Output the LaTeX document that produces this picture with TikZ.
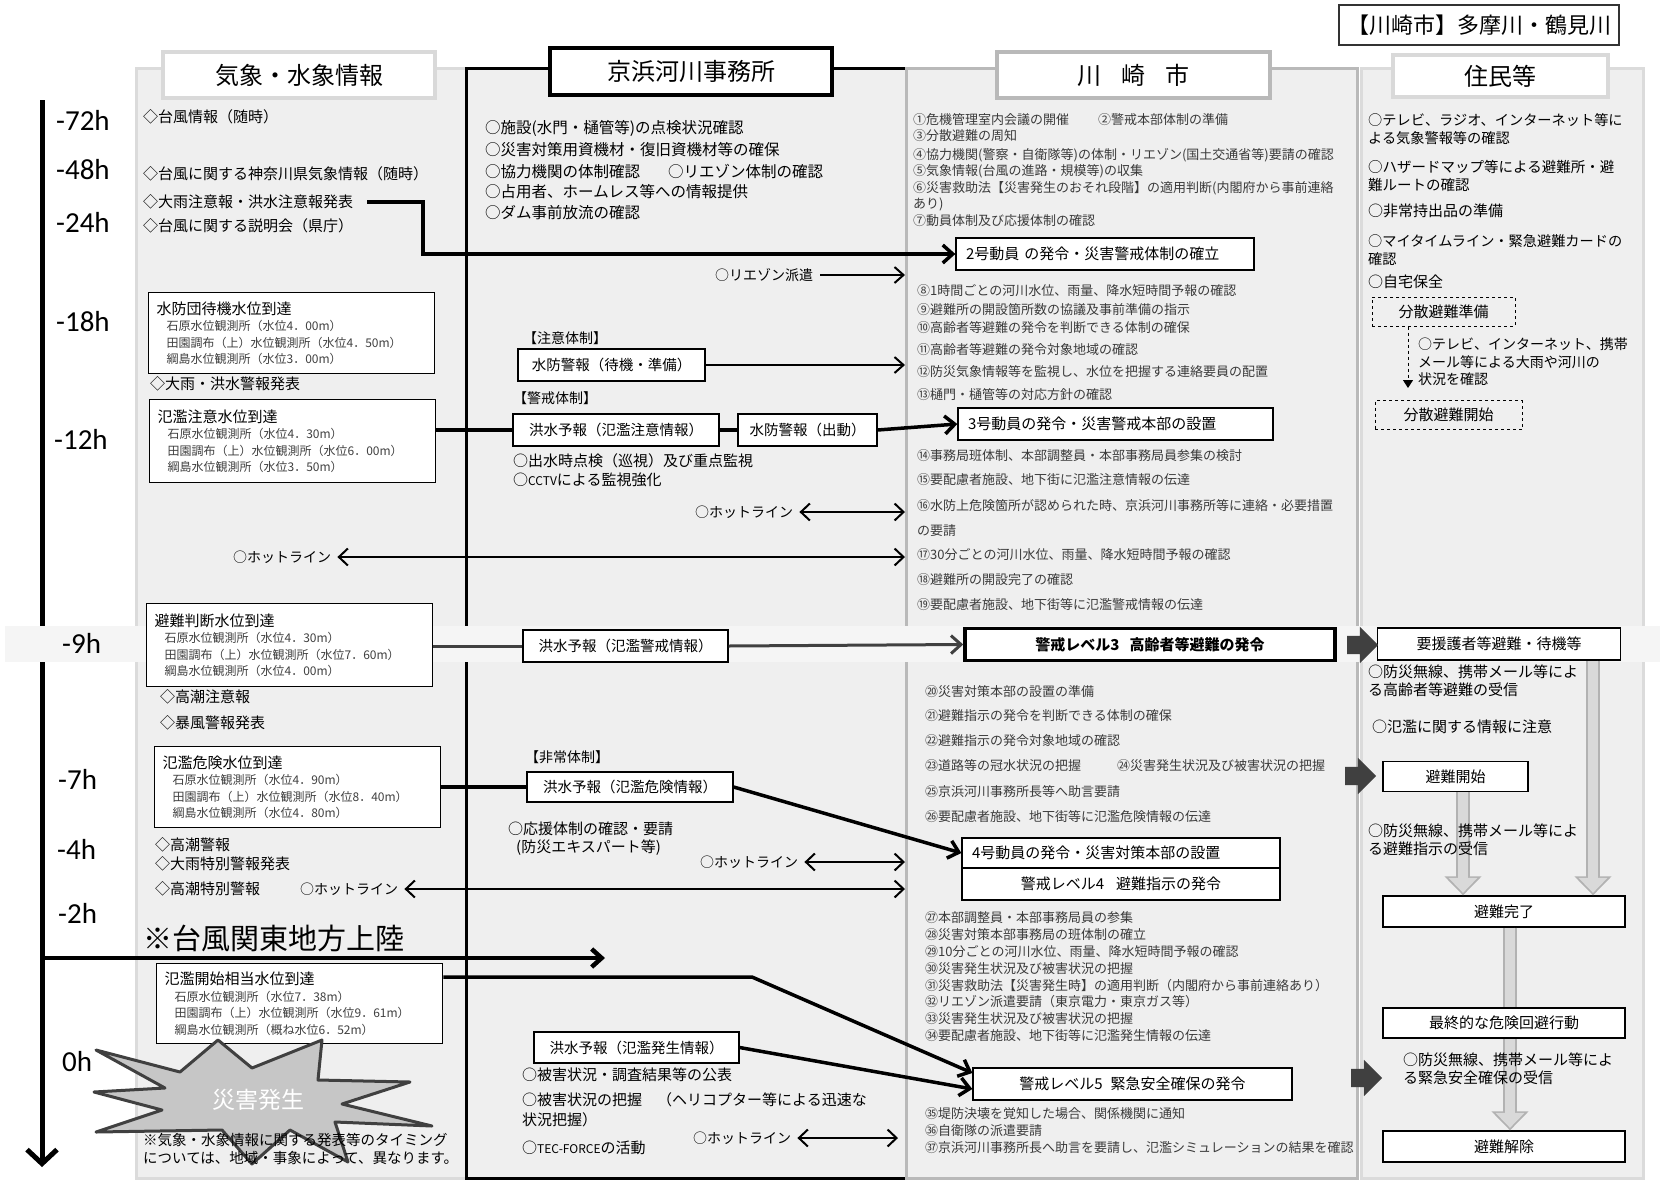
\documentclass[tikz,border=0pt]{standalone}
\usepackage{fontspec}
\setmainfont{Noto Sans CJK JP}
\newfontfamily\timefont{Carlito}
\usetikzlibrary{arrows.meta,shapes.arrows}

\definecolor{panelbg}{HTML}{EFEFEF}
\definecolor{bandbg}{HTML}{F5F5F5}
\definecolor{ktext}{HTML}{3A3A3A}
\definecolor{subtext}{HTML}{404040}

\newcommand{\wltitle}[1]{{\fontsize{15}{16.5}\selectfont #1}}
\newcommand{\wlsub}[1]{\hspace*{10pt}{\color{subtext}#1}}

\tikzstyle{panel} = [rectangle, anchor=north west, fill=panelbg, line width=3pt, inner sep=0pt]
\tikzstyle{header} = [rectangle, fill=white, inner sep=0pt, font=\fontsize{24}{26}\selectfont]
\tikzstyle{timelabel} = [anchor=west, inner sep=0pt, font=\timefont\fontsize{29}{30}\selectfont]
\tikzstyle{item} = [anchor=west, inner sep=0pt, font=\fontsize{15}{18}\selectfont]
\tikzstyle{kitem} = [anchor=west, inner sep=0pt, text=ktext, font=\fontsize{13}{16}\selectfont]
\tikzstyle{hotline} = [anchor=west, inner sep=0pt, font=\fontsize{14}{16}\selectfont]
\tikzstyle{levelbox} = [rectangle, draw, fill=white, line width=1.3pt, inner sep=0pt, minimum height=32pt, font=\fontsize{14.5}{16}\selectfont]
\tikzstyle{wlbox} = [rectangle, draw, fill=white, line width=1.3pt, anchor=north west, inner xsep=8pt, inner ysep=4pt, text width=270pt, align=left, font=\fontsize{12}{16.5}\selectfont]
\tikzstyle{dashbox} = [rectangle, draw, dashed, line width=1pt, inner sep=0pt, minimum height=29pt, font=\fontsize{15}{16}\selectfont]
\tikzstyle{link} = [line width=3.5pt]
\tikzstyle{flow} = [line width=3.5pt, ->, >={Straight Barb[length=10pt,width=18pt]}]
\tikzstyle{warnflow} = [line width=3pt, draw=black!75, ->, >={Straight Barb[length=10pt,width=18pt]}]
\tikzstyle{thinflow} = [line width=2pt, ->, >={Straight Barb[length=9pt,width=16pt]}]
\tikzstyle{hot} = [line width=2pt, <->, >={Straight Barb[length=9pt,width=17pt]}]
\tikzstyle{blockarrow} = [single arrow, fill=black!75, inner xsep=0pt, inner ysep=9pt, minimum height=31pt, single arrow head extend=9pt]
\tikzset{
  kbox/.style={levelbox, inner xsep=10pt, text width=#1, align=left, font=\fontsize{15}{16}\selectfont},
  evac/.style={line width=14pt, draw=gray!60, -{Triangle[length=19pt,width=36pt]},
    postaction={draw=gray!30, line width=10pt, -{Triangle[length=15pt,width=28pt]}, shorten >=2.5pt}}
}

\begin{document}
\begin{tikzpicture}[x=1pt,y=-1pt]
\useasboundingbox (0,0) rectangle (1664,1183);

% columns
\node[panel, draw=gray!28, minimum width=330pt, minimum height=1110pt] (pW) at (135,67) {};
\node[panel, draw=black, minimum width=440pt, minimum height=1110pt] (pK) at (465,67) {};
\node[panel, draw=gray!55, minimum width=451pt, minimum height=1110pt] (pC) at (905,67) {};
\node[panel, draw=gray!28, minimum width=282pt, minimum height=1110pt] (pR) at (1360,67) {};

% time axis
\coordinate (ttop) at (42,100);
\coordinate (tbot) at (42,1167);
\draw[line width=5pt, -{Straight Barb[length=14pt,width=30pt]}] (ttop) -- (tbot);

% -9h band
\fill[bandbg] (5,626) rectangle (1660,662);

% headers
\node[header, draw=gray!30, line width=4pt, minimum width=272pt, minimum height=46pt] (hW) at (299,75) {気象・水象情報};
\node[header, draw=black, line width=4.5pt, minimum width=282pt, minimum height=47pt] (hK) at (691,71.5) {京浜河川事務所};
\node[header, draw=gray!55, line width=4pt, minimum width=273pt, minimum height=46pt] (hC) at (1133.5,75) {川\hspace{20pt}崎\hspace{20pt}市};
\node[header, draw=gray!30, line width=4pt, minimum width=215pt, minimum height=42pt] (hR) at (1500.5,76) {住民等};
\node[rectangle, draw=black!80, line width=1.5pt, fill=white, minimum width=280pt, minimum height=40pt, inner sep=0pt, font=\fontsize{22}{24}\selectfont] (area) at (1479,25) {【川崎市】多摩川・鶴見川};

\foreach \xx/\yy/\tl [count=\i] in {56/120/-72h, 56/170/-48h, 56/222/-24h, 56/322/-18h, 54/439/-12h, 62/643/-9h, 58/779/-7h, 57/849/-4h, 58/913/-2h, 62/1062/0h}
  \node[timelabel] (t\i) at (\xx,\yy) {\tl};

% weather column
\node[item] (w1) at (143,117) {◇台風情報（随時）};
\node[item] (w2) at (143,174) {◇台風に関する神奈川県気象情報（随時）};
\node[item] (w3) at (143,202) {◇大雨注意報・洪水注意報発表};
\node[item] (w4) at (143,226) {◇台風に関する説明会（県庁）};
\node[wlbox, minimum height=81pt] (b1) at (148,292) {\wltitle{水防団待機水位到達}\\
  \wlsub{石原水位観測所（水位4．00m）}\\
  \wlsub{田園調布（上）水位観測所（水位4．50m）}\\
  \wlsub{綱島水位観測所（水位3．00m）}};
\node[item] (w5) at (150,384) {◇大雨・洪水警報発表};
\node[wlbox, minimum height=83pt] (b2) at (149,399) {\wltitle{氾濫注意水位到達}\\
  \wlsub{石原水位観測所（水位4．30m）}\\
  \wlsub{田園調布（上）水位観測所（水位6．00m）}\\
  \wlsub{綱島水位観測所（水位3．50m）}};
\node[hotline] (hotW1) at (233,557) {○ホットライン};
\node[wlbox, minimum height=83pt] (b3) at (146,603) {\wltitle{避難判断水位到達}\\
  \wlsub{石原水位観測所（水位4．30m）}\\
  \wlsub{田園調布（上）水位観測所（水位7．60m）}\\
  \wlsub{綱島水位観測所（水位4．00m）}};
\node[item] (w6) at (160,697) {◇高潮注意報};
\node[item] (w7) at (160,723) {◇暴風警報発表};
\node[wlbox, minimum height=81pt] (b4) at (154,746) {\wltitle{氾濫危険水位到達}\\
  \wlsub{石原水位観測所（水位4．90m）}\\
  \wlsub{田園調布（上）水位観測所（水位8．40m）}\\
  \wlsub{綱島水位観測所（水位4．80m）}};
\node[item] (w8) at (155,845) {◇高潮警報};
\node[item] (w9) at (155,864) {◇大雨特別警報発表};
\node[item] (w10) at (155,889) {◇高潮特別警報};
\node[hotline] (hotW2) at (300,889) {○ホットライン};
\node[anchor=west, inner sep=0pt, font=\fontsize{29}{31}\selectfont] (landfall) at (143,938) {※台風関東地方上陸};
\node[wlbox, minimum height=80pt] (b5) at (156,963) {\wltitle{氾濫開始相当水位到達}\\
  \wlsub{石原水位観測所（水位7．38m）}\\
  \wlsub{田園調布（上）水位観測所（水位9．61m）}\\
  \wlsub{綱島水位観測所（概ね水位6．52m）}};

% river office column
\foreach \yy/\tx [count=\i] in {128/{○施設(水門・樋管等)の点検状況確認}, 150/{○災害対策用資機材・復旧資機材等の確保}, 172/{○協力機関の体制確認\hspace{28pt}○リエゾン体制の確認}, 192/{○占用者、ホームレス等への情報提供}, 213/{○ダム事前放流の確認}}
  \node[item, font=\fontsize{15.5}{18}\selectfont] (kh\i) at (485,\yy) {\tx};
\node[hotline] (liaison) at (715,275) {○リエゾン派遣};
\node[hotline] (sys1) at (523,338) {【注意体制】};
\node[levelbox, minimum width=187pt] (sb1) at (611.5,365) {水防警報（待機・準備）};
\node[hotline] (sys2) at (513,398) {【警戒体制】};
\node[levelbox, minimum width=206pt] (kk1) at (616,430) {洪水予報（氾濫注意情報）};
\node[levelbox, minimum width=139pt] (sb2) at (807.5,430) {水防警報（出動）};
\node[item] (kh6) at (513,461) {○出水時点検（巡視）及び重点監視};
\node[item] (kh7) at (513,480) {○{\fontsize{12}{14}\selectfont CCTV}による監視強化};
\node[hotline] (hotK1) at (695,512) {○ホットライン};
\node[levelbox, minimum width=205pt] (kk2) at (625.5,646) {洪水予報（氾濫警戒情報）};
\node[hotline] (sys3) at (525,757) {【非常体制】};
\node[levelbox, minimum width=206pt, minimum height=30pt] (kk3) at (630,787) {洪水予報（氾濫危険情報）};
\node[item] (kh8) at (508,829) {○応援体制の確認・要請};
\node[item] (kh9) at (516,848) {(防災エキスパート等)};
\node[hotline] (hotK2) at (700,862) {○ホットライン};
\node[levelbox, minimum width=205pt, minimum height=31pt] (kk4) at (636.5,1047.5) {洪水予報（氾濫発生情報）};
\node[item] (kh10) at (522,1075) {○被害状況・調査結果等の公表};
\node[item] (kh11) at (522,1100) {○被害状況の把握　（ヘリコプター等による迅速な};
\node[item] (kh12) at (522,1120) {状況把握）};
\node[item] (kh13) at (522,1148) {○{\fontsize{12}{14}\selectfont TEC-FORCE}の活動};
\node[hotline] (hotK3) at (693,1138) {○ホットライン};

% city column
\foreach \xx/\yy/\tx [count=\i] in {
  913/120/{①危機管理室内会議の開催\hspace{29pt}②警戒本部体制の準備},
  913/136/{③分散避難の周知},
  913/155/{④協力機関(警察・自衛隊等)の体制・リエゾン(国土交通省等)要請の確認},
  913/171/{⑤気象情報(台風の進路・規模等)の収集},
  913/188/{⑥災害救助法【災害発生のおそれ段階】の適用判断(内閣府から事前連絡},
  913/204/{あり)},
  913/221/{⑦動員体制及び応援体制の確認},
  917/291/{⑧1時間ごとの河川水位、雨量、降水短時間予報の確認},
  917/310/{⑨避難所の開設箇所数の協議及事前準備の指示},
  917/328/{⑩高齢者等避難の発令を判断できる体制の確保},
  917/350/{⑪高齢者等避難の発令対象地域の確認},
  917/372/{⑫防災気象情報等を監視し、水位を把握する連絡要員の配置},
  917/395/{⑬樋門・樋管等の対応方針の確認},
  917/456/{⑭事務局班体制、本部調整員・本部事務局員参集の検討},
  917/480/{⑮要配慮者施設、地下街に氾濫注意情報の伝達},
  917/506/{⑯水防上危険箇所が認められた時、京浜河川事務所等に連絡・必要措置},
  917/531/{の要請},
  917/555/{⑰30分ごとの河川水位、雨量、降水短時間予報の確認},
  917/580/{⑱避難所の開設完了の確認},
  917/605/{⑲要配慮者施設、地下街等に氾濫警戒情報の伝達},
  925/692/{⑳災害対策本部の設置の準備},
  925/716/{㉑避難指示の発令を判断できる体制の確保},
  925/741/{㉒避難指示の発令対象地域の確認},
  925/766/{㉓道路等の冠水状況の把握\hspace{36pt}㉔災害発生状況及び被害状況の把握},
  925/792/{㉕京浜河川事務所長等へ助言要請},
  925/817/{㉖要配慮者施設、地下街等に氾濫危険情報の伝達},
  925/918/{㉗本部調整員・本部事務局員の参集},
  925/935/{㉘災害対策本部事務局の班体制の確立},
  925/952/{㉙10分ごとの河川水位、雨量、降水短時間予報の確認},
  925/969/{㉚災害発生状況及び被害状況の把握},
  925/986/{㉛災害救助法【災害発生時】の適用判断（内閣府から事前連絡あり）},
  925/1002/{㉜リエゾン派遣要請（東京電力・東京ガス等）},
  925/1019/{㉝災害発生状況及び被害状況の把握},
  925/1036/{㉞要配慮者施設、地下街等に氾濫発生情報の伝達},
  925/1114/{㉟堤防決壊を覚知した場合、関係機関に通知},
  925/1131/{㊱自衛隊の派遣要請},
  925/1148/{㊲京浜河川事務所長へ助言を要請し、氾濫シミュレーションの結果を確認}}
  \node[kitem] (k\i) at (\xx,\yy) {\tx};
\node[kbox=278pt] (b2go) at (1105,254) {2号動員 の発令・災害警戒体制の確立};
\node[kbox=295pt] (b3go) at (1115.5,424) {3号動員の発令・災害警戒本部の設置};
\node[levelbox, line width=3.5pt, minimum width=370pt, font=\bfseries\fontsize{15}{16}\selectfont] (bL3) at (1150,644.5) {警戒レベル3\hspace{10pt}高齢者等避難の発令};
\node[kbox=298pt, minimum height=30pt] (b4go) at (1121,853) {4号動員の発令・災害対策本部の設置};
\node[levelbox, minimum width=318pt, font=\fontsize{15}{16}\selectfont] (bL4) at (1121,884) {警戒レベル4\hspace{12pt}避難指示の発令};
\node[levelbox, minimum width=319pt, font=\fontsize{15}{16}\selectfont] (bL5) at (1132.5,1084) {警戒レベル5\hspace{8pt}緊急安全確保の発令};

% residents column
\node[item, align=left, font=\fontsize{14.2}{18}\selectfont] (r1) at (1368,129) {○テレビ、ラジオ、インターネット等に\\よる気象警報等の確認};
\node[item, align=left, font=\fontsize{14.5}{18}\selectfont] (r2) at (1368,176) {○ハザードマップ等による避難所・避\\難ルートの確認};
\node[item] (r3) at (1368,211) {○非常持出品の準備};
\node[item, align=left, font=\fontsize{14.2}{18}\selectfont] (r4) at (1368,250) {○マイタイムライン・緊急避難カードの\\確認};
\node[item] (r5) at (1368,282) {○自宅保全};
\node[dashbox, minimum width=143pt] (rPrep) at (1443.5,311.5) {分散避難準備};
\node[item, align=left, font=\fontsize{14}{17.5}\selectfont] (r6) at (1418,362) {○テレビ、インターネット、携帯\\メール等による大雨や河川の\\状況を確認};
\coordinate (rTip) at (1408,388);
\draw[dashed, line width=1pt, -{Triangle[length=8pt,width=10pt]}] (rPrep.south -| rTip) -- (rTip);
\node[dashbox, minimum width=147pt] (rStart) at (1448.5,415) {分散避難開始};
\node[levelbox, minimum width=243pt, font=\fontsize{15}{16}\selectfont] (rYoen) at (1499,644) {要援護者等避難・待機等};
\node[item, align=left] (r7) at (1368,681) {○防災無線、携帯メール等によ\\る高齢者等避難の受信};
\node[item] (r8) at (1372,727) {○氾濫に関する情報に注意};
\node[levelbox, minimum width=145pt, minimum height=30pt, font=\fontsize{15}{16}\selectfont] (rKaishi) at (1455.5,776.5) {避難開始};
\node[levelbox, minimum width=242pt, minimum height=31pt, font=\fontsize{15}{16}\selectfont] (rKanryo) at (1504,911.5) {避難完了};
\node[levelbox, minimum width=242pt, minimum height=31pt, font=\fontsize{15}{16}\selectfont] (rKaijo) at (1504,1146.5) {避難解除};
\draw[evac] ([xshift=94pt]rYoen.south) -- ([xshift=89pt]rKanryo.north);
\draw[evac] ([xshift=7.5pt]rKaishi.south) -- ([xshift=-41pt]rKanryo.north);
\draw[evac] ([xshift=6pt]rKanryo.south) -- ([xshift=6pt]rKaijo.north);
\node[levelbox, minimum width=242pt, minimum height=30pt, font=\fontsize{15}{16}\selectfont] (rSaishu) at (1504,1023) {最終的な危険回避行動};
\node[item, align=left] (r9) at (1368,840) {○防災無線、携帯メール等によ\\る避難指示の受信};
\node[item, align=left] (r10) at (1403,1069) {○防災無線、携帯メール等によ\\る緊急安全確保の受信};
\node[blockarrow] (ba3) at (1358,645) {};
\node[blockarrow] (ba4) at (1356,776) {};
\node[blockarrow] (ba5) at (1362,1078) {};

% connectors
\coordinate (jog) at (423,0);
\draw[flow] ([xshift=14pt]w3.east) -| (jog |- b2go.west) -- (b2go.west);
\draw[thinflow] ([xshift=7pt]liaison.east) -- (liaison.east -| pC.west);
\draw[thinflow] (sb1.east) -- (sb1.east -| pC.west);
\draw[link] (b2.east |- kk1.west) -- (kk1.west);
\draw[link] (kk1.east) -- (sb2.west);
\draw[flow] (sb2.east) -- (b3go.west);
\draw[hot] ([xshift=6pt]hotK1.east) -- (hotK1.east -| pC.west);
\draw[hot] ([xshift=6pt]hotW1.east) -- (hotW1.east -| pC.west);
\draw[warnflow, -] (b3.east |- kk2.west) -- (kk2.west);
\draw[warnflow] (kk2.east) -- (bL3.west);
\draw[link] (b4.east |- kk3.west) -- (kk3.west);
\draw[flow] (kk3.east) -- (b4go.west);
\draw[hot] ([xshift=6pt]hotK2.east) -- (hotK2.east -| pC.west);
\draw[hot] ([xshift=6pt]hotW2.east) -- (hotW2.east -| pC.west);
\coordinate (landL) at (42,958);
\coordinate (landR) at (605,958);
\draw[flow, line width=4.5pt] (landL) -- (landR);
\coordinate (kink) at (752,977);
\draw[flow] (b5.east |- kink) -- (kink) -- ([yshift=11pt]bL5.west);
\draw[flow] (kk4.east) -- ([yshift=-5pt]bL5.west);
\draw[hot] ([xshift=6pt]hotK3.east) -- ([xshift=-7pt]hotK3.east -| pC.west);

% disaster burst
\filldraw[fill=gray!45, draw=black!75, line width=3pt, line join=round] (96,1050) -- (180,1072) -- (218,1040) -- (252,1068) -- (322,1040) -- (318,1080) -- (410,1082) -- (342,1104) -- (432,1126) -- (335,1122) -- (348,1162) -- (290,1130) -- (252,1164) -- (222,1130) -- (96,1132) -- (162,1110) -- (94,1092) -- (165,1088) -- cycle;
\node[font=\fontsize{23}{25}\selectfont, text=white] (disaster) at (258,1100) {災害発生};
\node[anchor=west, inner sep=0pt, align=left, font=\fontsize{14.5}{18}\selectfont] (note) at (143,1149) {※気象・水象情報に関する発表等のタイミング\\については、地域・事象によって、異なります。};
\end{tikzpicture}
\end{document}
